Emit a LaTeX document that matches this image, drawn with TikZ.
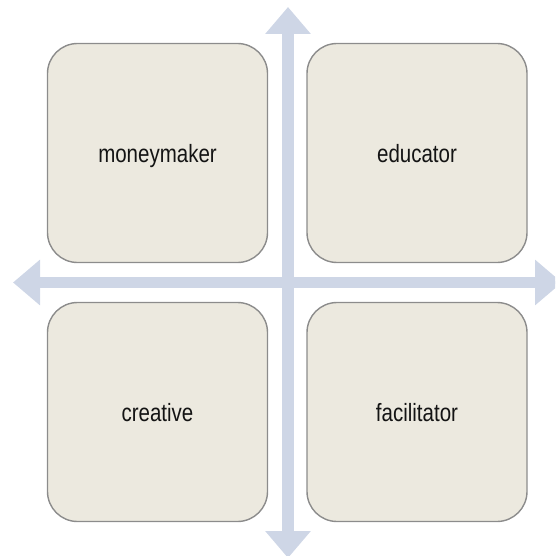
\documentclass[tikz,border=0pt]{standalone}
\usepackage{fontspec}
\setmainfont[FakeStretch=0.82]{Liberation Sans}
\usetikzlibrary{arrows.meta}
\definecolor{axisblue}{RGB}{206,214,230}
\definecolor{boxfill}{RGB}{236,233,223}
\definecolor{boxline}{RGB}{140,140,140}
\definecolor{labeltext}{RGB}{20,20,20}
\begin{document}
\begin{tikzpicture}[x=1pt,y=-1pt,
  quadrant/.style={draw=boxline, line width=1.4pt, fill=boxfill,
    rounded corners=30pt, minimum width=220pt, minimum height=219pt,
    inner sep=0pt, text depth=0pt, font=\fontsize{25}{30}\selectfont,
    text=labeltext},
  axis/.style={draw=axisblue, line width=11.5pt,
    {Triangle[length=27pt,width=44pt]}-{Triangle[length=27pt,width=44pt]}}]
\useasboundingbox (0,0) rectangle (555,556);
\clip (0,0) rectangle (555,556);

% axis end points
\coordinate (top) at (288,7);
\coordinate (bottom) at (288,558);
\coordinate (left) at (13,282.5);
\coordinate (right) at (562,282.5);

% the two double-headed axes
\draw[axis] (top) -- (bottom);
\draw[axis] (left) -- (right);

% the four quadrants
\node[quadrant] (moneymaker) at (157.5,153) {moneymaker};
\node[quadrant] (educator) at (417,153) {educator};
\node[quadrant] (creative) at (157.5,412) {creative};
\node[quadrant] (facilitator) at (417,412) {facilitator};
\end{tikzpicture}
\end{document}
